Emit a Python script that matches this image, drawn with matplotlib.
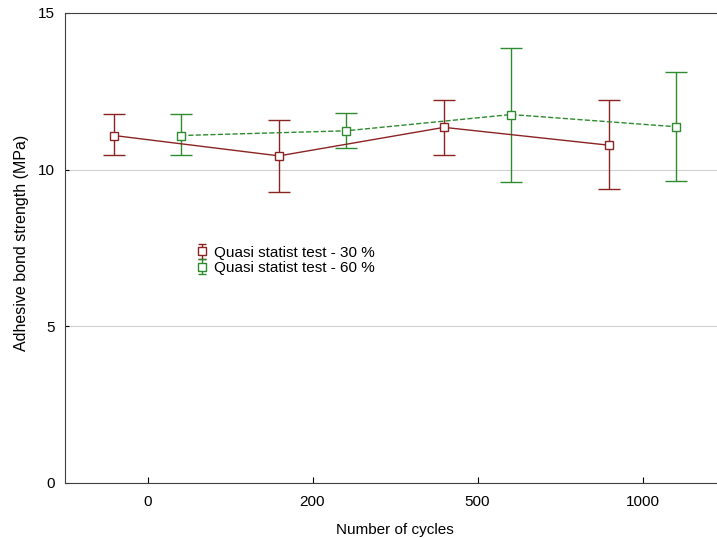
import numpy as np
import matplotlib.pyplot as plt

plt.rcParams['font.family'] = ['Liberation Sans', 'DejaVu Sans']

# data
cycles = ['0', '200', '500', '1000']
mean_30 = [11.09, 10.44, 11.35, 10.78]
low_30 = [10.47, 9.29, 10.47, 9.38]
high_30 = [11.77, 11.59, 12.22, 12.21]
mean_60 = [11.09, 11.24, 11.76, 11.37]
low_60 = [10.47, 10.70, 9.62, 9.65]
high_60 = [11.77, 11.80, 13.89, 13.11]

red = '#8b2323'
green = '#2e8b2e'
shift = 0.203

fig = plt.figure(figsize=(7.17, 5.38), dpi=100)
ax = fig.add_axes([65/717, 1 - 483/538, (725 - 65)/717, (483 - 13)/538])

x = np.arange(len(cycles))
m30 = np.array(mean_30)
m60 = np.array(mean_60)
err30 = [m30 - np.array(low_30), np.array(high_30) - m30]
err60 = [m60 - np.array(low_60), np.array(high_60) - m60]

style = dict(lw=1, marker='s', ms=6, mfc='white', mew=1, elinewidth=1, zorder=3)
ax.errorbar(x - shift, m30, yerr=err30, color=red, ls='-', mec=red, capsize=8, **style)
ax.errorbar(x + shift, m60, yerr=err60, color=green, ls='--', mec=green, capsize=8, **style)

# legend entries with small caps
h1 = ax.errorbar([np.nan], [np.nan], yerr=[1], color=red, ls='none', mec=red, capsize=3,
                 label='Quasi statist test - 30 %', **style)
h2 = ax.errorbar([np.nan], [np.nan], yerr=[1], color=green, ls='none', mec=green, capsize=3,
                 label='Quasi statist test - 60 %', **style)

ax.set_xlim(-0.5, 3.5)
ax.set_ylim(0, 15)
ax.set_yticks([0, 5, 10, 15])
ax.set_xticks(x)
ax.set_xticklabels(cycles)
ax.tick_params(axis='x', direction='in', length=4, labelsize=11, pad=9)
ax.tick_params(axis='y', direction='in', length=3, labelsize=11, pad=7)
ax.grid(axis='y', color='#d0d0d0', lw=0.8)
ax.set_axisbelow(True)
for s in ['left', 'bottom', 'top']:
    ax.spines[s].set_color('#404040')
ax.spines['right'].set_visible(False)

ax.set_xlabel('Number of cycles', fontsize=11, labelpad=10)
ax.set_ylabel('Adhesive bond strength (MPa)', fontsize=11.5)
ax.yaxis.set_label_coords(-0.054, 0.51)

ax.legend(handles=[h1, h2], loc='upper left', bbox_to_anchor=(0.2, 0.505), frameon=False,
          fontsize=11, handlelength=0.6, handletextpad=0.5, labelspacing=0.1,
          borderaxespad=0, borderpad=0)

plt.savefig('out.png', dpi=100)
